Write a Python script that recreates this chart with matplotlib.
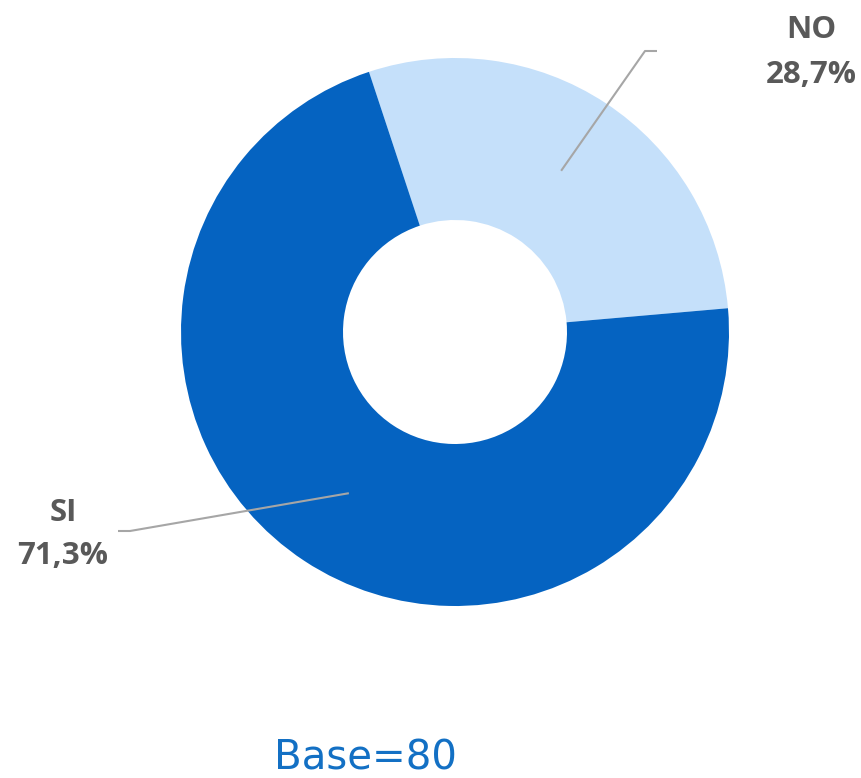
import numpy as np
import matplotlib
matplotlib.use("Agg")
import matplotlib.pyplot as plt

categories = ["NO", "SI"]
values = [28.7, 71.3]
labels = ["28,7%", "71,3%"]
base_text = "Base=80"

colors = ["#C5E0FA", "#0563C1"]
W, H = 862, 778
fig = plt.figure(figsize=(W / 100, H / 100), dpi=100)
ax = fig.add_axes([0, 0, 1, 1])

cx, cy = 455, H - 332
R, r = 274, 112
wedges, _ = ax.pie(values, colors=colors, startangle=108.3, counterclock=False,
                   center=(cx, cy), radius=R, frame=True,
                   wedgeprops=dict(width=R - r, edgecolor="white", linewidth=0))
ax.set_xlim(0, W)
ax.set_ylim(0, H)
ax.set_aspect("equal")
ax.axis("off")

# label layout (pixel coords from top)
elbows = {"NO": [(645, 51), (657, 51)], "SI": [(130, 531), (118, 531)]}
text_pos = {"NO": (811, 30, 75), "SI": (63, 513, 556)}
font = dict(family=["Open Sans", "DejaVu Sans"], fontweight="bold", fontsize=22.5, color="#595959")

for w, cat, lab in zip(wedges, categories, labels):
    mid = np.deg2rad((w.theta1 + w.theta2) / 2)
    rm = (R + r) / 2
    x0, y0 = cx + rm * np.cos(mid), cy + rm * np.sin(mid)
    pts = [(x0, y0)] + [(x, H - y) for x, y in elbows[cat]]
    xs, ys = zip(*pts)
    ax.plot(xs, ys, color="#A6A6A6", lw=1.5, solid_capstyle="butt")
    tx, ty1, ty2 = text_pos[cat]
    ax.text(tx, H - ty1, cat, ha="center", va="center", **font)
    ax.text(tx, H - ty2, lab, ha="center", va="center", **font)

ax.text(365, H - 758, base_text, ha="center", va="center", fontsize=29,
        color="#1370C4", family="DejaVu Sans")

fig.savefig("out.png", dpi=100)
